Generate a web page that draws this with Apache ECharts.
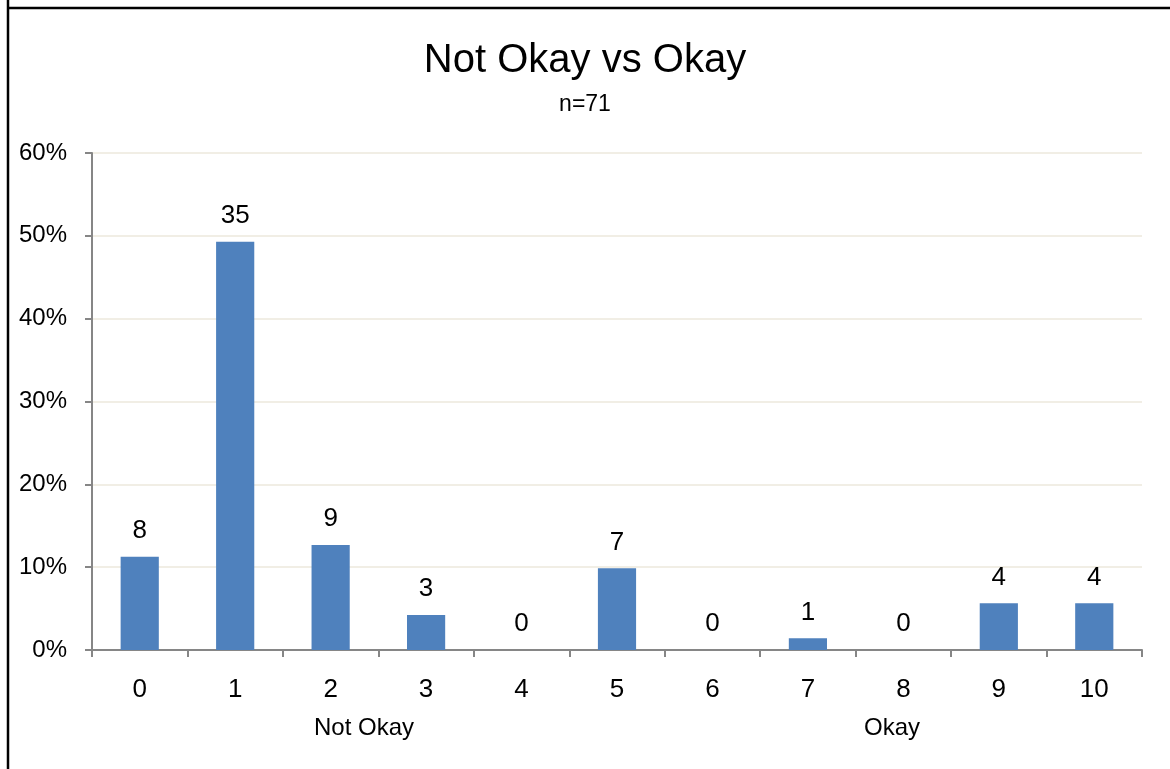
<!DOCTYPE html>
<html>
<head>
<meta charset="utf-8">
<script src="https://cdn.jsdelivr.net/npm/echarts@6/dist/echarts.min.js"></script>
<style>
html,body{margin:0;padding:0;background:#fff;}
#c{width:1170px;height:769px;}
</style>
</head>
<body>
<div id="c"></div>
<script>
var categories = ['0','1','2','3','4','5','6','7','8','9','10'];
var counts = [8, 35, 9, 3, 0, 7, 0, 1, 0, 4, 4];
var total = 71;
var yTicks = [0, 10, 20, 30, 40, 50, 60];
var titleText = 'Not Okay vs Okay';
var subText = 'n=71';
var groupLabels = ['Not Okay', 'Okay'];

var percents = counts.map(function (c) { return c / total * 100; });
var FONT = '"Liberation Sans Narrow", "Liberation Sans", Arial, sans-serif';

var chart = echarts.init(document.getElementById('c'));
chart.setOption({
  backgroundColor: '#ffffff',
  animation: false,
  title: {
    text: titleText,
    subtext: subText,
    left: 'center',
    top: 36,
    itemGap: 12,
    textStyle: { fontFamily: FONT, fontSize: 40, fontWeight: 'normal', color: '#000' },
    subtextStyle: { fontFamily: FONT, fontSize: 23, color: '#000' }
  },
  grid: { left: 92, right: 28, top: 153, bottom: 119 },
  xAxis: {
    type: 'category',
    data: categories,
    axisLine: { lineStyle: { color: '#868686', width: 2 } },
    axisTick: { show: true, alignWithLabel: false, length: 7, lineStyle: { color: '#868686', width: 2 } },
    axisLabel: { fontFamily: FONT, fontSize: 26, color: '#000', margin: 27 }
  },
  yAxis: {
    type: 'value',
    min: yTicks[0],
    max: yTicks[yTicks.length - 1],
    interval: 10,
    axisLine: { show: true, lineStyle: { color: '#868686', width: 2 } },
    axisTick: { show: true, length: 7, lineStyle: { color: '#868686', width: 2 } },
    axisLabel: { fontFamily: FONT, fontSize: 24, color: '#000', margin: 25, formatter: '{value}%' },
    splitLine: { lineStyle: { color: '#ece9dd', width: 1.5 } }
  },
  series: [{
    type: 'bar',
    data: percents,
    barWidth: '40%',
    itemStyle: { color: '#4f81bd' },
    label: {
      show: true,
      position: 'top',
      distance: 13,
      fontFamily: FONT,
      fontSize: 26,
      color: '#000',
      formatter: function (p) { return counts[p.dataIndex]; }
    }
  }],
  graphic: [
    { type: 'line', shape: { x1: 8, y1: 0, x2: 8, y2: 769 }, style: { stroke: '#000', lineWidth: 2.5 } },
    { type: 'line', shape: { x1: 8, y1: 8, x2: 1170, y2: 8 }, style: { stroke: '#000', lineWidth: 2.5 } },
    { type: 'text', left: 314, top: 716, style: { text: groupLabels[0], font: '24px ' + FONT, fill: '#000' } },
    { type: 'text', left: 864, top: 716, style: { text: groupLabels[1], font: '24px ' + FONT, fill: '#000' } }
  ]
});
</script>
</body>
</html>
